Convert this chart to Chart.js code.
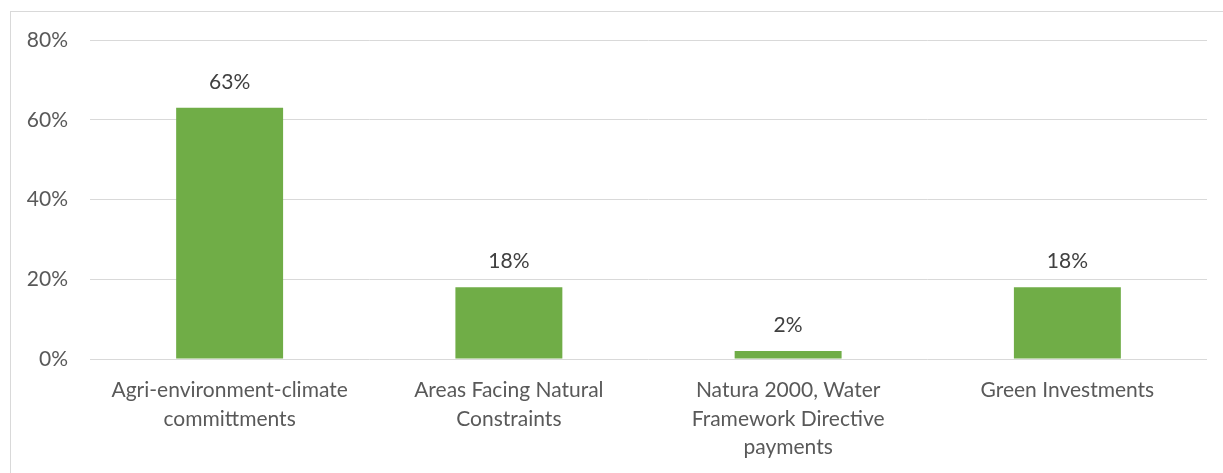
<!DOCTYPE html>
<html>
<head>
<meta charset="utf-8">
<script src="https://cdn.jsdelivr.net/npm/chart.js@4/dist/chart.umd.min.js"></script>
<style>
  body { margin: 0; background: #fff; overflow: hidden; }
  #frame { position: absolute; left: 10px; top: 11px; width: 1400px; height: 600px; border: 1px solid #d9d9d9; }
  #chart { position: absolute; left: 0; top: 0; }
</style>
</head>
<body>
<div id="frame"></div>
<canvas id="chart" width="1223" height="473"></canvas>
<script>
/* --------------- Data --------------------- */
const categories = [
  ["Agri-environment-climate", "committments"],
  ["Areas Facing Natural", "Constraints"],
  ["Natura 2000, Water", "Framework Directive", "payments"],
  ["Green Investments"],
];
const shares = [0.63, 0.18, 0.02, 0.18];
const yTicks = [0, 0.2, 0.4, 0.6, 0.8];

const fontFamily = "Lato, 'Open Sans', sans-serif";
const pct = (v) => Math.round(v * 100) + "%";

/* --------------- Value labels above bars --------------------- */
const valueLabels = {
  id: "valueLabels",
  afterDatasetsDraw(chart) {
    const ctx = chart.ctx;
    const meta = chart.getDatasetMeta(0);
    ctx.save();
    ctx.font = "21px " + fontFamily;
    ctx.fillStyle = "#404040";
    ctx.textAlign = "center";
    ctx.textBaseline = "middle";
    meta.data.forEach((bar, i) => {
      ctx.fillText(pct(shares[i]), bar.x, bar.y - 26);
    });
    ctx.restore();
  },
};

new Chart(document.getElementById("chart"), {
  type: "bar",
  plugins: [valueLabels],
  data: {
    labels: categories,
    datasets: [
      {
        data: shares,
        backgroundColor: "#70ad47",
        categoryPercentage: 1,
        barPercentage: 0.383,
      },
    ],
  },
  options: {
    responsive: false,
    animation: false,
    layout: { padding: { top: 40, right: 16, left: 0, bottom: 0 } },
    plugins: { legend: { display: false }, tooltip: { enabled: false } },
    scales: {
      x: {
        grid: { display: false, drawTicks: false },
        border: { display: false },
        ticks: {
          color: "#595959",
          padding: 17,
          maxRotation: 0,
          autoSkip: false,
          font: { family: fontFamily, size: 21, lineHeight: 1.36 },
        },
        afterFit: (scale) => { scale.height = 114; },
      },
      y: {
        min: 0,
        max: 0.8,
        afterBuildTicks: (scale) => { scale.ticks = yTicks.map((v) => ({ value: v })); },
        grid: { color: "#d9d9d9", lineWidth: 1, drawTicks: false },
        border: { display: false },
        ticks: {
          color: "#595959",
          padding: 22,
          font: { family: fontFamily, size: 21 },
          callback: (v) => pct(v),
        },
        afterFit: (scale) => { scale.width = 90; },
      },
    },
  },
});
</script>
</body>
</html>
